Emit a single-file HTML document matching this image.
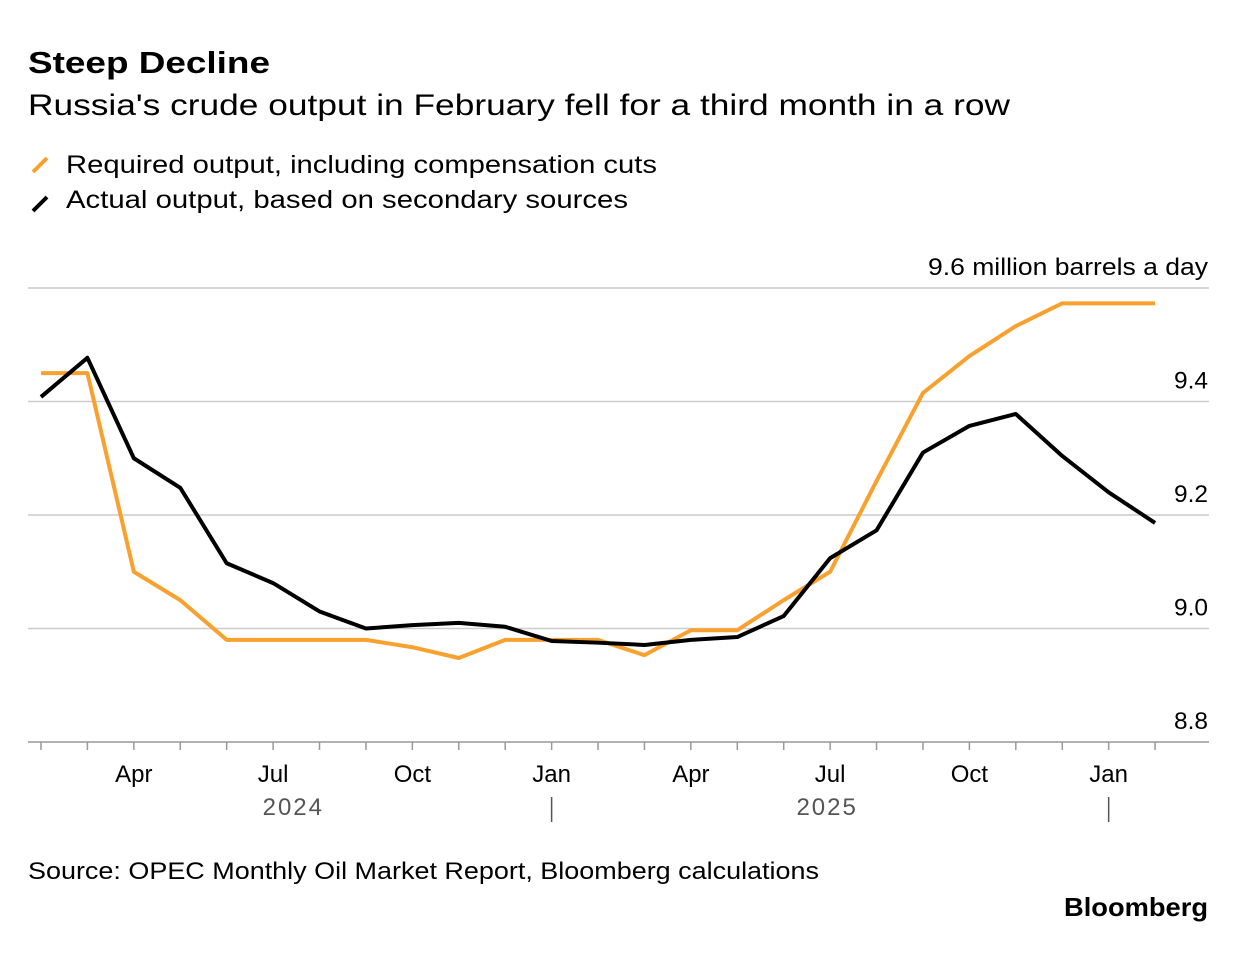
<!DOCTYPE html>
<html><head><meta charset="utf-8"><style>
body{margin:0;background:#fff;font-family:"Liberation Sans",sans-serif;}
svg text{font-family:"Liberation Sans",sans-serif;}
</style></head><body>
<svg width="1237" height="950" xmlns="http://www.w3.org/2000/svg">
<text x="28" y="73" font-size="31" font-weight="bold" fill="#000" textLength="242" lengthAdjust="spacingAndGlyphs">Steep Decline</text>
<text x="28" y="115" font-size="30" fill="#000" textLength="982" lengthAdjust="spacingAndGlyphs">Russia's crude output in February fell for a third month in a row</text>
<g>
<line x1="33" y1="172" x2="47" y2="158" stroke="#f8a12f" stroke-width="4"/>
<text x="66" y="173" font-size="25" fill="#000" textLength="591" lengthAdjust="spacingAndGlyphs">Required output, including compensation cuts</text>
<line x1="33" y1="211" x2="47" y2="197" stroke="#000" stroke-width="4"/>
<text x="66" y="208" font-size="25" fill="#000" textLength="562" lengthAdjust="spacingAndGlyphs">Actual output, based on secondary sources</text>
</g>
<g id="grid"></g>
<g id="xaxis"></g>
<g id="series"></g>
<text x="28" y="879" font-size="24" fill="#000" textLength="791" lengthAdjust="spacingAndGlyphs">Source: OPEC Monthly Oil Market Report, Bloomberg calculations</text>
<text x="1064" y="916" font-size="26" font-weight="bold" fill="#000" textLength="144" lengthAdjust="spacingAndGlyphs">Bloomberg</text>
</svg>
<script>
const months=["Feb","Mar","Apr","May","Jun","Jul","Aug","Sep","Oct","Nov","Dec","Jan","Feb","Mar","Apr","May","Jun","Jul","Aug","Sep","Oct","Nov","Dec","Jan","Feb"];
const required=[9.45,9.45,9.10,9.05,8.98,8.98,8.98,8.98,8.967,8.948,8.98,8.98,8.98,8.953,8.997,8.997,9.05,9.10,9.26,9.415,9.48,9.533,9.573,9.573,9.573];
const actual=[9.408,9.477,9.30,9.248,9.115,9.08,9.03,9.0,9.006,9.01,9.003,8.978,8.975,8.971,8.98,8.985,9.022,9.124,9.173,9.31,9.357,9.378,9.304,9.24,9.186];
const yTicks=[8.8,9.0,9.2,9.4,9.6];
const yTickLabels=["8.8","9.0","9.2","9.4","9.6 million barrels a day"];
const years=[{label:"2024",from:0,to:11},{label:"2025",from:11,to:23}];
const NS="http://www.w3.org/2000/svg";
const x=i=>41+i*46.42;
const y=v=>742-(v-8.8)/0.2*113.5;
function mk(tag,at,parent){const e=document.createElementNS(NS,tag);for(const k in at)e.setAttribute(k,at[k]);parent.appendChild(e);return e;}
const grid=document.getElementById('grid'),xa=document.getElementById('xaxis'),se=document.getElementById('series');
yTicks.forEach((t,i)=>{
 const l=mk('line',{x1:28,x2:1209,y1:y(t),y2:y(t),stroke:i==0?'#999':'#ccc','stroke-width':1.5},grid);
 
 
 const at={x:1208,y:y(t)-13,'font-size':24,'text-anchor':'end',fill:'#000'};
 if(i==4){at.textLength=280;at.lengthAdjust='spacingAndGlyphs';}
 else{at.textLength=34;at.lengthAdjust='spacingAndGlyphs';}
 const tx=mk('text',at,grid);
 tx.textContent=yTickLabels[i];
 
 
});
months.forEach((m,i)=>{
 const tk=mk('line',{x1:x(i),x2:x(i),y1:742,y2:750,stroke:'#999','stroke-width':1.5},xa);
 
 
 if(["Apr","Jul","Oct","Jan"].includes(m)){
  const tx=mk('text',{x:x(i),y:782,'font-size':24,'text-anchor':'middle',fill:'#000'},xa);
  tx.textContent=m;
  
  
 }
});
years.forEach(yr=>{
 const tx=mk('text',{x:(x(yr.from)+x(yr.to))/2-3,y:815,'font-size':24,'text-anchor':'middle',fill:'#555','letter-spacing':'2'},xa);
 tx.textContent=yr.label;
 
 
 const s=mk('line',{x1:x(yr.to),x2:x(yr.to),y1:797,y2:822,stroke:'#555','stroke-width':1.5},xa);
 
 
});
[[required,'#f8a12f','required-line'],[actual,'#000','actual-line']].forEach(([d,c,n])=>{
 const p=mk('polyline',{points:d.map((v,i)=>x(i)+','+y(v)).join(' '),fill:'none',stroke:c,'stroke-width':4,'stroke-linejoin':'round'},se);
 
 
});
</script>
</body></html>
